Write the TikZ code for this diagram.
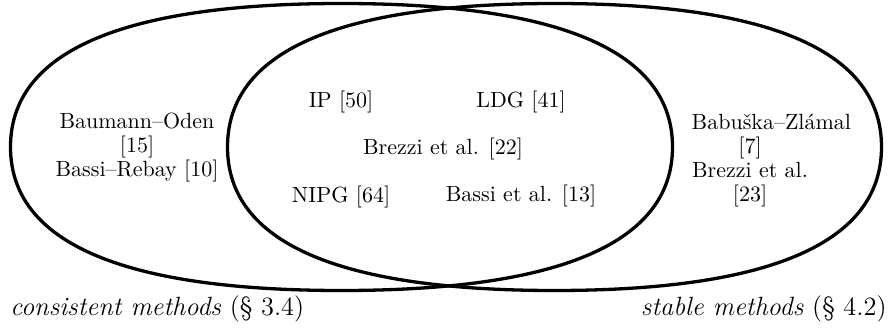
\documentclass[tikz,border=0pt]{standalone}
\usepackage{fontspec}
\usepackage{tikz}

\begin{document}
\begin{tikzpicture}[x=0.4545pt, y=-0.4545pt,
		venn/.style={line width=1.5pt},
		method/.style={anchor=base, inner sep=0pt},
		group/.style={align=center, inner sep=0pt},
		setname/.style={inner sep=0pt, font=\large}]
		\useasboundingbox (0,0) rectangle (890,329);
		\foreach \cx/\rx in {341.5/331, 554.5/327}
			\draw[venn] (\cx+\rx,147) .. controls +(0,-95.3) and +(0.664*\rx,0) .. (\cx,3.5)
				.. controls +(-0.664*\rx,0) and +(0,-95.3) .. (\cx-\rx,147)
				.. controls +(0,95.3) and +(-0.664*\rx,0) .. (\cx,290.5)
				.. controls +(0.664*\rx,0) and +(0,95.3) .. cycle;
		\node[method] (ip) at (341,108) {IP [50]};
		\node[method] (ldg) at (521,108) {LDG [41]};
		\node[method] (brezzi) at (443,154) {Brezzi et al. [22]};
		\node[method] (nipg) at (341,202) {NIPG [64]};
		\node[method] (bassi) at (521,201) {Bassi et al. [13]};
		\node[group] (consonly) at (137,147.6) {Baumann--Oden\\[-1.1pt]{[15]}\\[-1.1pt]Bassi--Rebay [10]};
		\node[group, text width=53pt] (stabonly) at (750,160.5) {\mbox{Babuška--Zlámal}\\[-1.1pt]{[7]}\\[-1.1pt]Brezzi et al.\\[-1.1pt]{[23]}};
		\node[setname, anchor=base west] (cons) at (10,315) {\textit{consistent methods} (\S~3.4)};
		\node[setname, anchor=base east] (stab) at (887,315) {\textit{stable methods} (\S~4.2)};
	\end{tikzpicture}
\end{document}
